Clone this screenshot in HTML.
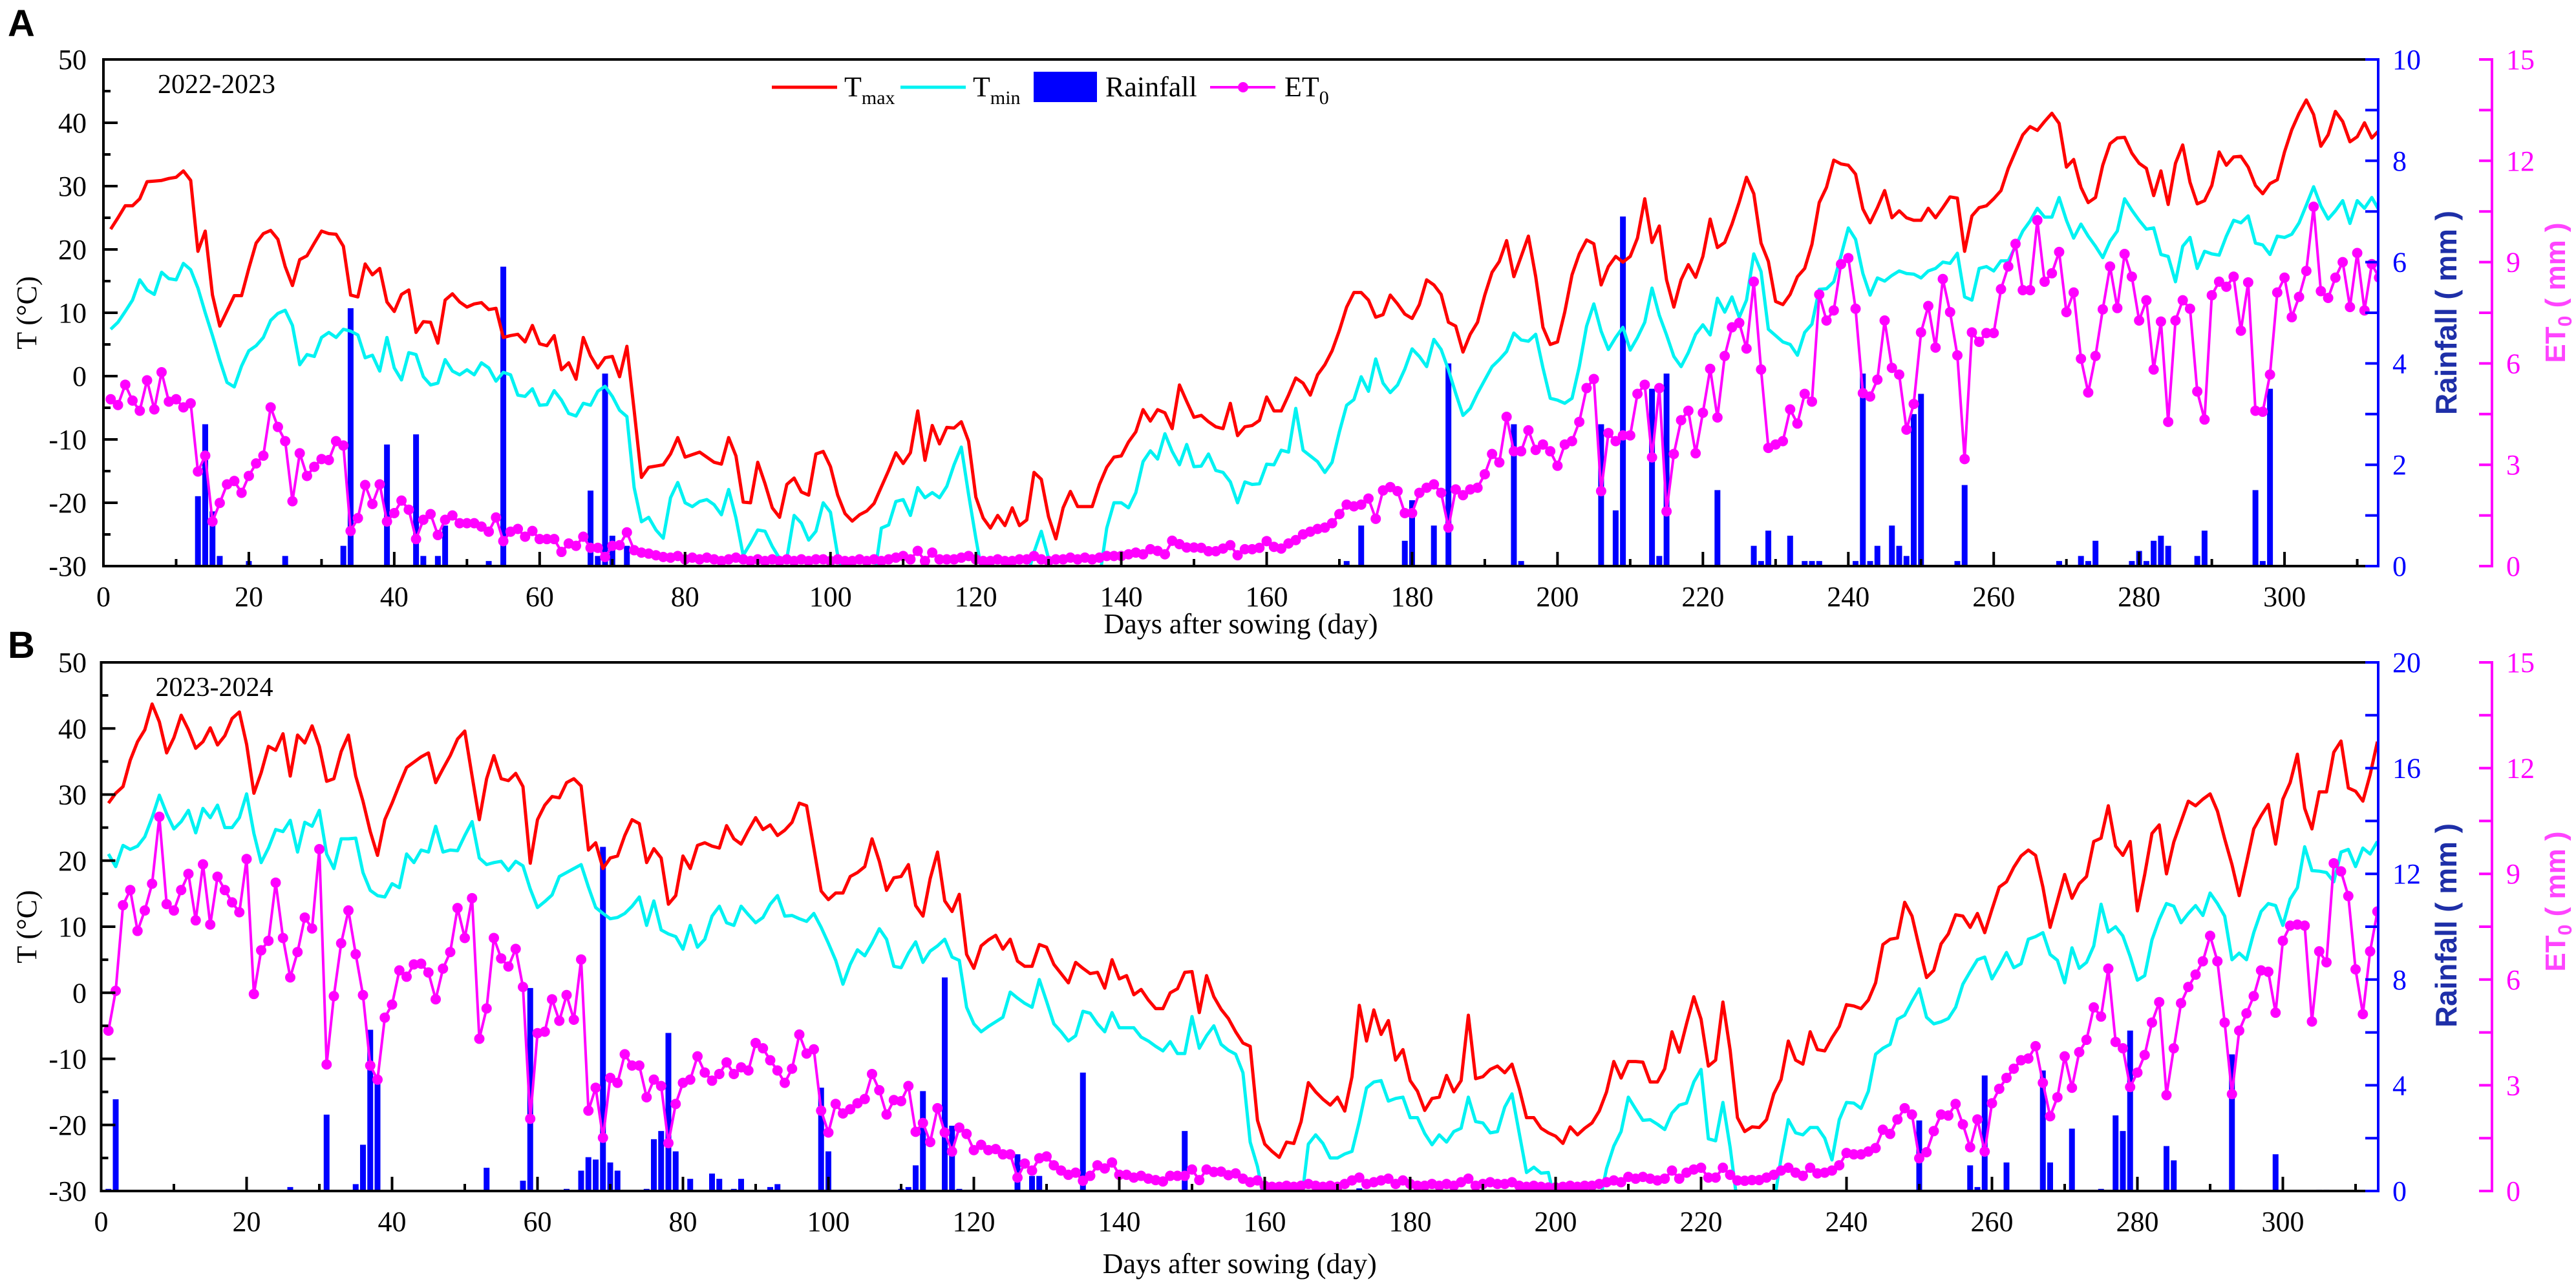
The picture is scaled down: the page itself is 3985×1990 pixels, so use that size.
<!DOCTYPE html>
<html><head><meta charset="utf-8"><style>
html,body{margin:0;padding:0;background:#fff;}
svg{display:block;}
text{font-family:"Liberation Serif",serif;}
</style></head><body>
<svg id="chart" xmlns="http://www.w3.org/2000/svg" width="3985" height="1990" viewBox="0 0 3985 1990">
<rect x="0" y="0" width="3985" height="1990" fill="#fff"/>
</svg>
<script>
// ===== Panel A (2022-2023) data: daily values starting at day 1 =====
const tmaxA = [23.2,25,26.9,26.9,28,30.7,30.8,30.9,31.2,31.4,32.4,30.9,19.7,22.9,12.8,7.9,10.3,12.7,12.7,17,21,22.5,23,21.6,17.3,14.3,18.4,19,21,22.9,22.5,22.4,20.5,12.8,12.5,17.7,16,17,11.7,10.2,12.9,13.6,6.9,8.6,8.5,5.2,12,13,11.7,10.9,11.4,11.6,10.5,10.7,6.1,6.4,6.6,5.4,8,5.1,4.8,6.4,1,2.1,-0.5,6.1,3.2,1.3,2.9,3.1,-0.1,4.7,-5.4,-16,-14.4,-14.2,-14,-12.3,-9.7,-12.8,-12.4,-12,-12.8,-13.6,-13.9,-9.7,-12.6,-19.9,-20,-13.6,-17,-20.8,-22.3,-17.1,-16.1,-18.3,-18.8,-12.3,-11.9,-14.3,-18.8,-21.7,-22.9,-21.9,-21.3,-20.1,-17.5,-14.9,-12.1,-13.8,-12.1,-5.5,-13.3,-7.8,-10.7,-8.1,-8.2,-7.2,-10.3,-19.1,-22.4,-24,-22,-23.6,-20.8,-23.6,-22.7,-15.2,-16.3,-22.2,-25.7,-20.8,-18.2,-20.6,-20.6,-20.6,-17.1,-14.4,-12.8,-12.6,-10.4,-8.8,-5.3,-7.1,-5.3,-5.8,-8.3,-1.4,-4,-6.5,-6.2,-7.2,-8,-8.3,-4.3,-9.4,-8,-7.8,-7,-3.3,-5.5,-5.5,-3,-0.3,-1.1,-3,0.2,1.8,4,7.2,10.9,13.2,13.2,12,9.3,9.7,12.8,11.4,9.8,9.1,11.3,15.2,14.4,12.9,8.5,7.9,3.8,6.6,8.5,12.8,16.4,18.1,21.4,15.7,18.9,22.1,15.7,7.7,5,5.4,10.1,16,19.3,21.5,20.9,14.4,17.3,18.9,18,18.9,21.8,28,21.1,23.7,15.2,10.9,15.2,17.6,15.6,18.9,24.8,20.3,21.1,24,27.5,31.4,28.8,21,18.1,11.8,11.3,12.9,15.7,17,20.8,27.4,29.8,34.1,33.5,33.3,31.9,26.4,24.2,26.6,29.3,25,26.1,25,24.6,24.6,26.5,25,26.6,28.3,28.1,19.7,25.3,26.6,26.9,28,29.3,32.8,35.5,38.1,39.4,38.8,40.2,41.5,39.9,33,34.2,29.8,27.4,28.2,33.3,36.7,37.6,37.7,35.2,33.6,32.8,28.5,32.4,27.1,33.6,36.5,30.6,27.2,27.7,30.1,35.4,33.3,34.6,34.7,33,30.1,28.8,30.4,31,35.4,38.9,41.5,43.6,41.3,36.3,38.1,41.8,40.2,37,37.8,40,37.6,38.8];
const tminA = [7.4,8.5,10.2,12,15.2,13.6,12.9,16.4,15.4,15.2,17.8,16.8,13.9,10,6.4,2.5,-1,-1.7,1.6,4,4.8,6.1,8.8,9.9,10.4,8,1.8,3.4,3.1,6.1,6.9,6.1,7.4,7.1,6.5,2.9,3.3,0.8,6.1,1.3,-0.6,3.7,3.4,-0.1,-1.4,-1.1,2.6,0.8,0.2,1,0.2,2.1,1.3,-0.8,0.6,0.2,-3,-3.2,-2,-4.6,-4.5,-2.3,-3.8,-5.9,-6.3,-4.3,-4.6,-2.4,-1.6,-3.2,-5.4,-6.4,-17.6,-23,-22.3,-24.3,-25.6,-19.2,-16.8,-20,-20.6,-19.8,-19.5,-20.3,-21.9,-17.9,-22.4,-28.3,-26.4,-24.3,-24.5,-26.9,-28.8,-28.8,-22,-23.2,-25.9,-24.5,-20,-21.5,-28.3,-32,-32,-32,-32,-32,-24,-23.5,-19.8,-19.5,-22,-17.6,-19.2,-18.4,-19.2,-17.4,-14,-11.2,-18.7,-25.6,-32,-32,-32,-32,-32,-32,-32,-27.8,-24.5,-28.8,-32,-32,-32,-32,-32,-32,-32,-24,-20,-20,-20.8,-18.4,-13.5,-11.8,-13.1,-9.1,-11.9,-14,-10.8,-14.3,-14.2,-12.3,-14.9,-15.2,-16.7,-20,-16.7,-17.1,-17,-13.9,-14,-11.7,-12,-5.1,-11.7,-12.6,-13.5,-15.2,-13.6,-8.8,-4.6,-3.7,-0.1,-2.4,2.7,-1.1,-2.6,-1.4,1.1,4.3,3.1,1.5,5.8,4.2,1,-2.7,-6.2,-5.1,-2.7,-0.6,1.5,2.6,3.9,6.8,5.7,5.5,6.6,1.3,-3.5,-3.8,-4.3,-3.5,1.5,7.9,11.4,7.1,4.2,6.1,7.7,4.1,6.1,8.5,13.9,9.6,6.5,3.1,1.5,3.7,6.6,8.1,6.5,12.3,10.1,12.5,9.3,12,19.3,16.5,7.4,6.4,5.4,5,3.3,6.9,8.2,13.7,13.8,14.9,19,23.4,21.6,16.2,12.8,15.5,15,15.9,16.6,16.2,16.1,15.5,16.6,17,18,17.8,19.4,12.5,12,17,17.3,16.6,18.2,18.2,20.5,22.9,24.5,26.5,25.1,25.1,28.2,24.6,21.8,24,22.1,20.5,18.7,21.3,22.9,28,26.2,24.6,23.2,23.4,19.2,18.9,14.9,20.5,21.9,17,19.7,19.3,19.1,22.1,24.6,24.2,25.3,21,20.7,19.2,22.1,21.9,22.4,24.2,27,29.9,26.9,24.8,26.1,27.7,24.1,27.7,26.5,28.2,26.2];
const et0A = [4.94,4.77,5.37,4.9,4.6,5.5,4.64,5.74,4.87,4.94,4.7,4.82,2.8,3.27,1.32,1.87,2.42,2.52,2.17,2.67,3.04,3.27,4.7,4.12,3.7,1.92,3.34,2.67,2.94,3.17,3.14,3.7,3.57,1.04,1.42,2.4,1.84,2.42,1.32,1.57,1.94,1.67,0.8,1.37,1.54,0.92,1.37,1.5,1.27,1.27,1.27,1.17,1.02,1.44,0.74,1.02,1.1,0.87,1.04,0.8,0.8,0.8,0.42,0.67,0.6,0.87,0.54,0.54,0.27,0.6,0.62,1,0.47,0.4,0.37,0.32,0.27,0.25,0.3,0.2,0.25,0.2,0.25,0.2,0.15,0.2,0.25,0.2,0.15,0.2,0.15,0.2,0.15,0.2,0.15,0.2,0.15,0.2,0.2,0.15,0.2,0.15,0.15,0.2,0.15,0.2,0.15,0.2,0.25,0.3,0.2,0.45,0.15,0.4,0.2,0.2,0.2,0.25,0.3,0.2,0.15,0.15,0.2,0.15,0.15,0.2,0.2,0.3,0.2,0.15,0.2,0.2,0.25,0.2,0.25,0.2,0.25,0.3,0.3,0.3,0.35,0.4,0.35,0.5,0.45,0.35,0.75,0.65,0.55,0.55,0.54,0.44,0.44,0.52,0.62,0.32,0.5,0.5,0.54,0.74,0.57,0.52,0.67,0.77,0.94,1.02,1.1,1.14,1.27,1.54,1.82,1.77,1.82,2,1.4,2.24,2.34,2.22,1.57,1.57,2.17,2.32,2.42,2.17,1.14,2.27,2.1,2.27,2.32,2.72,3.32,3.07,4.42,3.4,3.4,4.02,3.44,3.6,3.4,2.97,3.6,3.7,4.27,5.27,5.54,2.22,3.94,3.7,3.87,3.87,5.1,5.37,3.22,5.27,1.62,3.32,4.32,4.6,3.34,4.54,5.84,4.4,6.22,7.07,7.2,6.44,8.42,5.82,3.5,3.6,3.7,4.64,4.22,5.1,4.87,8.04,7.27,7.57,8.94,9.12,7.62,5.12,5.02,5.52,7.27,5.87,5.67,4.04,4.8,6.92,7.7,6.47,8.5,7.52,6.24,3.17,6.92,6.64,6.9,6.9,8.2,8.87,9.54,8.17,8.17,10.24,8.42,8.67,9.3,7.52,8.1,6.14,5.14,6.22,7.6,8.87,7.64,9.24,8.57,7.27,7.87,5.82,7.24,4.27,7.27,7.87,7.62,5.17,4.34,8.02,8.42,8.27,8.57,6.97,8.4,4.6,4.57,5.67,8.1,8.54,7.37,7.97,8.74,10.64,8.14,7.94,8.54,9,7.67,9.27,7.57,8.94,8.54];
const rainDaysA = [13,14,15,16,20,25,33,34,39,43,44,46,47,53,55,67,68,69,70,72,171,173,179,180,183,185,194,195,206,208,209,213,214,215,222,227,228,229,232,234,235,236,241,242,243,244,246,247,248,249,250,255,256,269,272,273,274,279,280,281,282,283,284,288,289,296,297,298];
const rainValsA = [1.38,2.8,1.08,0.2,0.1,0.2,0.4,5.09,2.4,2.6,0.2,0.2,0.8,0.1,5.91,1.49,0.2,3.8,0.6,0.4,0.1,0.8,0.5,1.3,0.8,4,2.8,0.1,2.8,1.1,6.9,3.5,0.2,3.8,1.5,0.4,0.1,0.7,0.6,0.1,0.1,0.1,0.1,3.8,0.1,0.4,0.8,0.4,0.2,3,3.4,0.1,1.6,0.1,0.2,0.1,0.5,0.1,0.3,0.1,0.5,0.6,0.4,0.2,0.7,1.5,0.1,3.5];

// ===== Panel B (2023-2024) data: daily values starting at day 1 =====
const tmaxB = [28.7,30.2,31.2,35.2,38,39.8,43.7,41,36.3,38.6,42,39.8,37,38,40.1,37.5,38.9,41.5,42.5,37.6,30.2,33.3,37.3,36.7,39.2,32.8,39,37.8,40.4,37.3,32,32.4,36.5,39,32.8,29,24.4,20.8,26.2,28.7,31.5,34.1,34.9,35.7,36.3,31.8,33.9,35.9,38.4,39.6,32.8,26.2,32.4,35.9,32.4,32.1,33.2,31.2,19.6,26.2,28.4,29.7,29.5,31.8,32.4,31.3,21.6,22.7,18.8,20.4,20.7,23.8,26.2,25.6,19.7,21.8,20.4,13.4,14.7,20.7,18.8,22.3,22.7,22.2,21.9,25.3,23.3,22.5,24.6,26.5,24.7,25.4,23.8,24.6,25.8,28.7,28.3,21.9,15.4,14.1,15.1,15.1,17.6,18.2,19.1,23.3,19.9,15.5,17.4,17.6,19.4,13.2,11.6,17.3,21.3,13.9,12.3,14.9,5.8,3.7,7.1,8,8.7,6.6,8.1,4.8,4,4,7.3,6.9,4.3,2.9,1.5,4.6,3.7,2.9,3.1,0.7,5,2.1,2.6,-0.3,0.5,-1.1,-2.4,-2.4,0,0.6,3.1,3.2,-3,2.6,-0.6,-2.5,-3.9,-5.9,-7.6,-8.1,-19.3,-22.9,-24,-24.9,-22.6,-22.8,-19.5,-13.6,-15,-16.1,-17,-15.8,-17.9,-12.7,-1.9,-7.3,-2.6,-6.3,-4.2,-10.2,-8.6,-13.3,-14.9,-17.8,-16,-15.8,-12.5,-15,-13.3,-3.4,-13,-12.7,-11.6,-11.1,-12.1,-10.8,-14.5,-18.9,-18.9,-20.5,-21.2,-21.7,-22.8,-20.3,-21.5,-20.5,-19.7,-17.9,-15,-10.4,-12.9,-10.4,-10.4,-10.5,-13.5,-13.5,-11.5,-5.9,-9,-4.7,-0.6,-4,-11.1,-10.2,-1.4,-8.7,-18.9,-21,-20.3,-20.4,-19.2,-15.3,-13.1,-7.3,-10.2,-10.8,-5.9,-8.6,-8.8,-6.8,-5.1,-1.8,-2,-2.4,-1.1,1.5,7.3,8.1,8.3,13.7,11.6,6.9,2.3,3.4,7.4,8.9,11.8,11.6,9.9,12,9.1,12.6,16,16.8,19,20.7,21.6,20.8,16,9.9,13.9,17.9,14.3,16.5,17.6,22.9,23.4,28.3,22.2,20.8,22.9,12.4,17.9,24.1,25.4,18,22.8,25.9,29,28.3,29.3,30.1,27.5,23.3,19.4,14.7,19.7,24.8,26.8,28.5,22.5,29.3,31.8,36.1,27.9,24.8,30.4,30.4,36.4,38.1,31,30.5,29,33,38];
const tminB = [21,19.1,22.3,21.7,22.2,23.6,26.5,29.9,27.1,24.8,25.9,27.6,24.2,27.9,26.5,28.4,25,25,26.5,30.1,24.1,19.7,21.9,24.7,24.4,26.1,21.3,25.8,25.2,27.6,21,18.8,23.3,23.3,23.4,18.2,15.5,14.7,14.5,16.5,15.9,21,19.7,21.6,21.3,25.2,21.3,21.6,21.5,23.8,25.9,20.4,19.4,19.7,19.9,18.5,19.9,19.2,15.7,12.9,13.8,14.8,17.6,18.2,18.8,19.4,16,12.9,12,11.2,11.4,12,13.1,14.5,10.2,13.9,9.5,8.9,8.5,6.6,10.2,6.9,8.1,11.6,13.1,10.6,10.2,13.1,11.8,10.6,11.4,13.4,14.7,11.6,11.7,11.2,10.8,12,9.9,7.5,4.9,1.3,4.3,6.5,5.6,7.5,9.7,8.1,4,3.8,6,7.7,4.6,6.3,7.1,8.1,5.4,4.9,-2.2,-4.7,-5.9,-5.1,-4.4,-3.7,0.1,-0.8,-1.6,-2.2,2,-1.3,-4.7,-5.9,-7.3,-6.5,-2.8,-3.1,-4.7,-5.9,-3,-5.3,-5.3,-5.3,-6.7,-7.3,-8.1,-8.8,-7.4,-9.2,-9.2,-3.6,-8.4,-6.5,-5,-7.8,-8.7,-9.3,-12.1,-22.6,-26.3,-32,-32,-32,-32,-32,-32,-22.9,-21.5,-22.8,-25,-25,-24.4,-24,-19.5,-14.4,-13.5,-13.3,-16.4,-16,-15.8,-18.9,-18.9,-21.3,-23,-21.5,-22.6,-21,-20.5,-15.8,-19.5,-19.7,-21.2,-21,-17.3,-15.3,-21.3,-27.2,-26.4,-27.3,-27.2,-32,-32,-32,-32,-32,-32,-32,-26.6,-23.2,-21,-15.8,-17.6,-19.3,-19.2,-19.9,-20.7,-18.2,-17,-16.7,-13.5,-11.6,-22.1,-22.4,-16.6,-23.4,-32,-32,-32,-32,-32,-32,-25,-19.2,-21.2,-21.5,-20.4,-20.4,-22,-25.3,-19.2,-16.6,-16.7,-17.5,-14.9,-9.3,-8.4,-7.8,-4,-3.4,-1.3,0.6,-3.7,-4.7,-4.4,-3.9,-2.2,1.3,3.2,5,5.4,2.1,4,6.1,3.8,4.4,8.1,8.5,9.1,5.8,4.9,1.5,6.8,3.7,4.6,7.1,13.4,9.2,10,8.6,5.5,1.9,2.6,8,11.1,13.5,13.1,10.6,12,13.2,11.7,15.1,13.5,11.6,5,6,5,9.1,12.3,13.5,13.2,10.2,14.2,15.9,22.1,18.5,18.4,18.2,16.8,21.3,21.7,19.1,21.9,21,22.9];
const et0B = [4.55,5.68,8.11,8.54,7.38,7.96,8.72,10.62,8.14,7.96,8.54,9,7.68,9.27,7.56,8.92,8.54,8.19,7.91,9.42,5.59,6.83,7.1,8.75,7.18,6.06,6.78,7.76,7.45,9.7,3.59,5.53,7.03,7.96,6.72,5.56,3.56,3.16,4.92,5.29,6.26,6.08,6.43,6.45,6.2,5.44,6.31,6.78,8.03,7.18,8.31,4.32,5.18,7.18,6.6,6.37,6.87,5.79,2.05,4.48,4.52,5.44,4.83,5.56,4.86,6.57,2.28,2.93,1.51,3.21,3.07,3.88,3.56,3.56,2.66,3.16,2.98,1.36,2.47,3.07,3.16,3.82,3.36,3.13,3.32,3.65,3.32,3.51,3.42,4.2,4.05,3.71,3.42,3.07,3.47,4.44,3.9,4.02,2.28,1.66,2.47,2.2,2.32,2.49,2.61,3.32,2.86,2.17,2.58,2.55,2.98,1.68,1.93,1.39,2.35,1.66,1.12,1.8,1.62,1.16,1.31,1.16,1.19,1.04,1.04,0.38,0.78,0.58,0.93,0.98,0.73,0.58,0.46,0.52,0.29,0.43,0.73,0.64,0.81,0.46,0.46,0.38,0.43,0.35,0.31,0.27,0.43,0.43,0.43,0.61,0.31,0.61,0.54,0.55,0.45,0.5,0.35,0.25,0.3,0.15,0.12,0.12,0.15,0.12,0.15,0.2,0.15,0.12,0.15,0.12,0.2,0.3,0.38,0.2,0.25,0.3,0.35,0.2,0.3,0.2,0.15,0.15,0.2,0.15,0.2,0.15,0.25,0.35,0.15,0.2,0.25,0.2,0.2,0.25,0.15,0.12,0.15,0.12,0.1,0.1,0.12,0.15,0.12,0.15,0.15,0.2,0.25,0.3,0.25,0.4,0.35,0.4,0.35,0.3,0.35,0.58,0.35,0.52,0.61,0.66,0.38,0.38,0.66,0.46,0.3,0.29,0.31,0.31,0.38,0.46,0.58,0.66,0.52,0.43,0.66,0.5,0.52,0.58,0.73,1.08,1.04,1.04,1.12,1.22,1.74,1.62,2.03,2.35,2.17,0.93,1.1,1.7,2.17,2.14,2.47,1.89,1.24,2.03,1.12,2.49,2.9,3.21,3.47,3.71,3.76,4.11,3.07,2.12,2.66,3.82,2.93,3.94,4.29,5.21,4.95,6.31,4.23,4.05,2.95,3.36,3.86,4.78,5.36,2.72,4.05,5.33,5.79,6.14,6.52,7.24,6.52,4.78,2.75,4.55,5.04,5.53,6.26,6.22,5.06,7.1,7.53,7.56,7.53,4.81,6.8,6.49,9.3,9.07,8.37,6.29,5.02,6.8,7.93];
const rainDaysB = [1,2,26,31,35,36,37,38,53,58,59,64,66,67,68,69,70,71,75,76,77,78,79,81,84,85,87,88,92,93,99,100,110,111,112,113,116,117,118,126,128,129,135,149,173,250,257,258,259,262,267,268,271,275,277,278,279,284,285,292,293,294,299,305,306];
const rainValsB = [0.08,3.47,0.15,2.89,0.26,1.75,6.1,4.25,0.88,0.39,7.68,0.08,0.77,1.28,1.19,13.02,1.08,0.77,0.08,1.96,2.27,5.98,1.5,0.46,0.66,0.46,0.08,0.46,0.15,0.26,3.91,1.5,0.08,0.15,0.97,3.78,8.08,2.47,0.08,1.39,0.57,0.57,4.48,2.27,0.1,2.67,0.97,0.15,4.37,1.08,4.56,1.08,2.36,0.08,2.86,2.27,6.07,1.7,1.16,0.05,5.17,0.05,1.39,0.05,0.05];

// axis tick labels
const tempTicks = [50,40,30,20,10,0,-10,-20,-30];
const dayTicks = [0,20,40,60,80,100,120,140,160,180,200,220,240,260,280,300];
const rainTicksA = [0,2,4,6,8,10];
const rainTicksB = [0,4,8,12,16,20];
const et0Ticks = [0,3,6,9,12,15];

const NS = 'http://www.w3.org/2000/svg';
const svg = document.getElementById('chart');
function mk(tag, attrs, parent) {
  const e = document.createElementNS(NS, tag);
  for (const k in attrs) e.setAttribute(k, attrs[k]);
  (parent || svg).appendChild(e);
  return e;
}
const TMIN_COLOR = '#00f2f2';

function drawPanel(p) {
  const g = mk('g', {});
  
  
  const xS = d => p.x0 + d * p.xs;
  const yT = t => p.bot - (t - (-30)) / 80 * (p.bot - p.top);
  const yR = r => p.bot - r / p.rainMax * (p.bot - p.top);
  const yE = e => p.bot - e / 15 * (p.bot - p.top);
  const clipId = 'clip' + p.id;
  const defs = mk('defs', {}, g);
  const cp = mk('clipPath', { id: clipId }, defs);
  mk('rect', { x: p.x0, y: p.top, width: p.right - p.x0, height: p.bot - p.top }, cp);

  const bars = mk('g', { 'clip-path': 'url(#' + clipId + ')' }, g);
  
  
  p.rainDays.forEach((d, i) => {
    const y = yR(p.rainVals[i]);
    const b = mk('rect', { x: xS(d) - 4.5, y: y, width: 9, height: p.bot - y, fill: '#0000ff' }, bars);
    
    
  });

  function line(vals, fn, color, w, name) {
    const pts = vals.map((v, i) => xS(i + 1).toFixed(1) + ',' + fn(v).toFixed(1)).join(' ');
    const pl = mk('polyline', { points: pts, fill: 'none', stroke: color, 'stroke-width': w, 'stroke-linejoin': 'round', 'clip-path': 'url(#' + clipId + ')' }, g);
    
    
  }
  line(p.tmax, yT, '#ff0000', 5, 'tmax-line');
  line(p.tmin, yT, TMIN_COLOR, 5, 'tmin-line');
  line(p.et0, yE, '#ff00ff', 4, 'et0-line');
  const mg = mk('g', { fill: '#ff00ff', 'clip-path': 'url(#' + clipId + ')' }, g);
  
  
  p.et0.forEach((v, i) => {
    const c = mk('circle', { cx: xS(i + 1), cy: yE(v), r: 8 }, mg);
    
    
  });

  mk('line', { x1: p.x0, y1: p.top, x2: p.right, y2: p.top, stroke: '#000', 'stroke-width': 4 }, g);
  mk('line', { x1: p.x0, y1: p.bot, x2: p.right, y2: p.bot, stroke: '#000', 'stroke-width': 4 }, g);
  const la = mk('line', { x1: p.x0, y1: p.top - 2, x2: p.x0, y2: p.bot + 2, stroke: '#000', 'stroke-width': 4 }, g);
  
  
  const ra = mk('line', { x1: p.right, y1: p.top - 2, x2: p.right, y2: p.bot + 2, stroke: '#0000ff', 'stroke-width': 4 }, g);
  
  
  const ea = mk('line', { x1: p.etX, y1: p.top - 2, x2: p.etX, y2: p.bot + 2, stroke: '#ff00ff', 'stroke-width': 4 }, g);
  
  

  for (let t = -30; t <= 50; t += 5) {
    const major = t % 10 === 0;
    mk('line', { x1: p.x0, y1: yT(t), x2: p.x0 + (major ? 22 : 11), y2: yT(t), stroke: '#000', 'stroke-width': 4 }, g);
  }
  tempTicks.forEach(t => {
    const tx = mk('text', { x: 134, y: yT(t) + 15, 'text-anchor': 'end', 'font-size': 44, fill: '#000' }, g);
    tx.textContent = t;
    
    
  });
  for (let d = 0; d <= 310; d += 10) {
    const major = d % 20 === 0;
    mk('line', { x1: xS(d), y1: p.bot, x2: xS(d), y2: p.bot - (major ? 22 : 11), stroke: '#000', 'stroke-width': 4 }, g);
  }
  dayTicks.forEach(d => {
    const tx = mk('text', { x: xS(d), y: p.bot + 62, 'text-anchor': 'middle', 'font-size': 44, fill: '#000' }, g);
    tx.textContent = d;
    
    
  });
  const rstep = p.rainMax / 10;
  for (let r = 0; r <= p.rainMax + 1e-9; r += rstep) {
    mk('line', { x1: p.right, y1: yR(r), x2: p.right - 20, y2: yR(r), stroke: '#0000ff', 'stroke-width': 4 }, g);
  }
  p.rainTicks.forEach(r => {
    const tx = mk('text', { x: p.right + 22, y: yR(r) + 15, 'font-size': 44, fill: '#0000ff' }, g);
    tx.textContent = r;
    
    
  });
  for (let e = 0; e <= 15.01; e += 1.5) {
    mk('line', { x1: p.etX, y1: yE(e), x2: p.etX - 20, y2: yE(e), stroke: '#ff00ff', 'stroke-width': 4 }, g);
  }
  et0Ticks.forEach(e => {
    const tx = mk('text', { x: p.etX + 22, y: yE(e) + 15, 'font-size': 44, fill: '#ff00ff' }, g);
    tx.textContent = e;
    
    
  });

  const mid = (p.top + p.bot) / 2;
  const tt = mk('text', { x: 0, y: 0, 'text-anchor': 'middle', 'font-size': 44, fill: '#000', transform: 'translate(56,' + mid + ') rotate(-90)' }, g);
  tt.textContent = 'T (\u00B0C)';
  
  
  const xt = mk('text', { x: (p.x0 + p.right) / 2, y: p.titleY, 'text-anchor': 'middle', 'font-size': 44, fill: '#000' }, g);
  xt.textContent = 'Days after sowing (day)';
  
  
  const rt = mk('text', { x: 0, y: 0, 'text-anchor': 'middle', 'font-size': 46, 'font-weight': 'bold', fill: '#1e2fa8', style: 'font-family:"Liberation Sans",sans-serif', textLength: 316, lengthAdjust: 'spacingAndGlyphs', transform: 'translate(3800,' + p.rainTitleY + ') rotate(-90)' }, g);
  rt.textContent = 'Rainfall ( mm )';
  
  
  const et = mk('text', { x: 0, y: 0, 'text-anchor': 'middle', 'font-size': 44, 'font-weight': 'bold', fill: '#ff44ff', style: 'font-family:"Liberation Sans",sans-serif', transform: 'translate(3968,' + p.etTitleY + ') rotate(-90)' }, g);
  et.innerHTML = 'ET<tspan font-size="30" dy="10">0</tspan><tspan dy="-10"> ( mm )</tspan>';
  
  

  const sl = mk('text', { x: p.x0 + 84, y: p.top + 52, 'font-size': 42, fill: '#000' }, g);
  sl.textContent = p.season;
  
  
  const pl = mk('text', { x: 12, y: p.letterY, 'font-size': 58, 'font-weight': 'bold', fill: '#000', style: 'font-family:"Liberation Sans",sans-serif' }, g);
  pl.textContent = p.id;
  
  
}

drawPanel({ id: 'A', x0: 160, xs: 11.247, top: 92, bot: 876, right: 3679, etX: 3855, rainMax: 10,
  tmax: tmaxA, tmin: tminA, et0: et0A, rainDays: rainDaysA, rainVals: rainValsA, rainTicks: rainTicksA,
  titleY: 980, rainTitleY: 484, etTitleY: 453, season: '2022-2023', letterY: 56 });
drawPanel({ id: 'B', x0: 156.5, xs: 11.25, top: 1025, bot: 1843, right: 3679, etX: 3855, rainMax: 20,
  tmax: tmaxB, tmin: tminB, et0: et0B, rainDays: rainDaysB, rainVals: rainValsB, rainTicks: rainTicksB,
  titleY: 1970, rainTitleY: 1432, etTitleY: 1395, season: '2023-2024', letterY: 1018 });

const lg = mk('g', {});


const ly = 135;
mk('line', { x1: 1194, y1: ly, x2: 1295, y2: ly, stroke: '#ff0000', 'stroke-width': 5 }, lg);
const l1 = mk('text', { x: 1306, y: ly + 14, 'font-size': 44, fill: '#000' }, lg);
l1.innerHTML = 'T<tspan font-size="30" dy="12">max</tspan>';


mk('line', { x1: 1393, y1: ly, x2: 1494, y2: ly, stroke: TMIN_COLOR, 'stroke-width': 5 }, lg);
const l2 = mk('text', { x: 1505, y: ly + 14, 'font-size': 44, fill: '#000' }, lg);
l2.innerHTML = 'T<tspan font-size="30" dy="12">min</tspan>';


mk('rect', { x: 1599, y: 111, width: 98, height: 47, fill: '#0000ff' }, lg);
const l3 = mk('text', { x: 1710, y: ly + 14, 'font-size': 44, fill: '#000' }, lg);
l3.textContent = 'Rainfall';


mk('line', { x1: 1872, y1: ly, x2: 1973, y2: ly, stroke: '#ff00ff', 'stroke-width': 4 }, lg);
mk('circle', { cx: 1923, cy: ly, r: 8, fill: '#ff00ff' }, lg);
const l4 = mk('text', { x: 1987, y: ly + 14, 'font-size': 44, fill: '#000' }, lg);
l4.innerHTML = 'ET<tspan font-size="30" dy="12">0</tspan>';


</script>
</body></html>
